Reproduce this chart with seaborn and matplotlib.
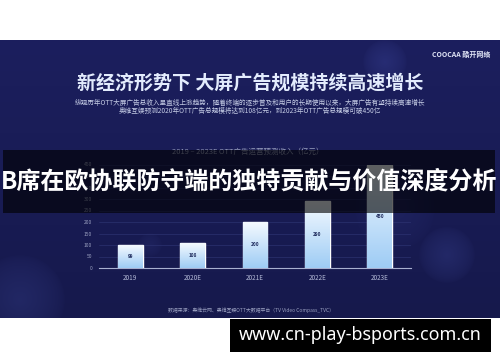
import numpy as np
import pandas as pd
import matplotlib
matplotlib.use("Agg")
import matplotlib.pyplot as plt
import seaborn as sns
from matplotlib.patches import Rectangle

# ---- data ----
years = ["2019", "2020E", "2021E", "2022E", "2023E"]
revenue = [99, 108, 200, 290, 450]
y_ticks = [0, 50, 100, 150, 200, 250, 300, 350, 400, 450]

title_main = "新经济形势下 大屏广告规模持续高速增长"
subtitle_1 = "纵观历年OTT大屏广告总收入呈直线上涨趋势，随着终端的逐步普及和用户的长期使用以来，大屏广告有望持续高速增长"
subtitle_2 = "奥维互娱预测2020年OTT广告总规模将达到108亿元，到2023年OTT广告总规模可破450亿"
chart_title = "2019 – 2023E OTT广告运营预测收入（亿元）"
source_text = "数据来源：奥维云网、奥维互娱OTT大数据平台（TV Video Compass_TVC）"
logo_text = "COOCAA 酷开网络"
overlay_text = "B席在欧协联防守端的独特贡献与价值深度分析"
url_text = "www.cn-play-bsports.com.cn"

sns.set_theme(style="white")
plt.rcParams['font.family'] = ['Noto Sans CJK SC', 'DejaVu Sans']

W, H = 500, 362
fig = plt.figure(figsize=(W / 100, H / 100), dpi=100, facecolor="white")

# background axes in pixel coordinates
bg = fig.add_axes([0, 0, 1, 1], zorder=0)
bg.set_xlim(0, W)
bg.set_ylim(H, 0)
bg.axis("off")

# navy panel with soft glows
py0, py1 = 40, 318
nx, ny = 500, 278
xx, yy = np.meshgrid(np.arange(nx) + 0.5, np.arange(ny) + py0 + 0.5)
top = np.array([28, 31, 94]) / 255
bot = np.array([22, 25, 76]) / 255
t = ((yy - py0) / (py1 - py0))[..., None]
img = top * (1 - t) + bot * t
glows = [(385, 62, 22, 0.10), (20, 300, 45, 0.10), (447, 255, 28, 0.10), (150, 245, 12, 0.05), (395, 210, 40, 0.05)]
for cx, cy, r, a in glows:
    d = np.sqrt((xx - cx) ** 2 + (yy - cy) ** 2)
    g = np.clip(1 - d / r, 0, 1) ** 0.6 * a
    img = img + g[..., None] * np.array([0.45, 0.55, 0.9])
img = np.clip(img, 0, 1)
bg.imshow(img, extent=[0, W, py1, py0], aspect="auto", zorder=0, interpolation="bilinear")

# texts on the panel
bg.text(490, 54, logo_text, color="#dfe3f5", fontsize=5.0, ha="right", va="center", fontweight="bold")
bg.text(250, 83, title_main, color="#e3ecfd", fontsize=13.7, ha="center", va="center", fontweight="bold")
bg.text(250, 102.8, subtitle_1, color="#c4cbe4", fontsize=4.8, ha="center", va="center")
bg.text(250, 110.6, subtitle_2, color="#c4cbe4", fontsize=4.8, ha="center", va="center")
bg.text(248, 152, chart_title, color="#9aa0c0", fontsize=5.4, ha="center", va="center")
bg.text(251, 310, source_text, color="#9aa0c0", fontsize=3.55, ha="center", va="center")

# chart axes
ax_l, ax_r, ax_b, ax_t = 99, 411, 268, 164.5
ax = fig.add_axes([ax_l / W, (H - ax_b) / H, (ax_r - ax_l) / W, (ax_b - ax_t) / H], zorder=1)
ax.patch.set_alpha(0)
df = pd.DataFrame({"year": years, "revenue": revenue})
sns.barplot(data=df, x="year", y="revenue", ax=ax, color="#dbe9fb", width=0.4, saturation=1, zorder=3)
ax.set_xlim(-0.5, 4.5)
ax.set_ylim(0, 450)
ax.set_yticks(y_ticks)
ax.set_yticklabels([str(v) for v in y_ticks])
ax.set_xlabel("")
ax.set_ylabel("")
for s in ["top", "right", "left"]:
    ax.spines[s].set_visible(False)
ax.spines["bottom"].set_color("#a9b0d0")
ax.spines["bottom"].set_linewidth(0.8)
ax.tick_params(axis="y", length=0, pad=5, labelsize=3.6, labelcolor="#9aa0c0")
ax.tick_params(axis="x", length=0, pad=4, labelsize=4.6, labelcolor="#b5bbd8")
for v in y_ticks[1:]:
    ax.axhline(v, color="#2c3270", lw=0.5, zorder=1)

# gradient fill for bars
grad = np.linspace(0, 1, 256)[:, None]
ctop = np.array([0.96, 0.98, 1.0])
cbot = np.array([0.62, 0.80, 0.96])
gimg = ctop * (1 - grad[..., None]) + cbot * grad[..., None]
for p, v in zip(ax.patches, revenue):
    x0, w = p.get_x(), p.get_width()
    h = p.get_height()
    im = ax.imshow(gimg, extent=[x0, x0 + w, 0, h], aspect="auto", zorder=4, origin="upper")
    im.set_clip_path(p)
    ax.text(x0 + w / 2, h / 2, str(v), ha="center", va="center", fontsize=3.4,
            color="#1d2a5c", fontweight="bold", zorder=5)
ax.set_xlim(-0.5, 4.5)
ax.set_ylim(0, 450)

# overlay layer
ov = fig.add_axes([0, 0, 1, 1], zorder=5)
ov.set_xlim(0, W)
ov.set_ylim(H, 0)
ov.axis("off")
ov.patch.set_alpha(0)
ov.add_patch(Rectangle((3, 150), 492, 63, facecolor="black", alpha=0.62, edgecolor="none"))
ov.text(249, 182, overlay_text, color="white", fontsize=17.3, ha="center", va="center", fontweight="bold")
ov.add_patch(Rectangle((230, 319), 261, 33, facecolor="black", edgecolor="none"))
ov.text(360.5, 335.5, url_text, color="white", fontsize=12.9, ha="center", va="center",
        fontweight="bold", family=["Noto Sans", "DejaVu Sans"])

fig.savefig("out.png", dpi=100, facecolor="white")
